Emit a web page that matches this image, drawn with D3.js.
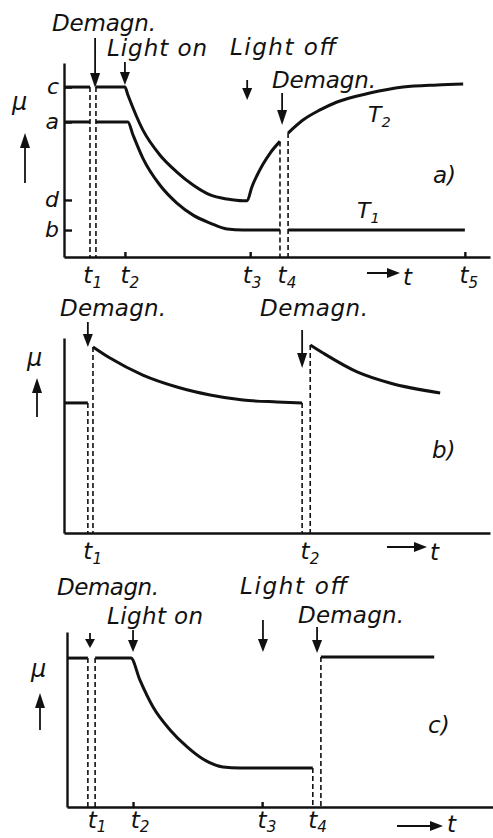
<!DOCTYPE html>
<html>
<head>
<meta charset="utf-8">
<script src="https://cdn.jsdelivr.net/npm/d3@7"></script>
<style>
  html, body { margin: 0; padding: 0; background: #fff; }
  svg text { font-family: "DejaVu Sans", sans-serif; font-style: oblique; fill: #111; }
</style>
</head>
<body>
<svg id="fig" width="493" height="838"></svg>
<script>
// Time runs 0–100 (arbitrary units) along each panel, permeability μ runs 0–100 (arbitrary units).

// ---------- a) two temperatures T1, T2 ----------
const aLevelNames  = ["c", "a", "d", "b"];
const aLevelValues = [87.6, 69.6, 29.4, 13.9];
const aTickNames   = ["1", "2", "3", "4", "5"];
const aTickTimes   = [5.6, 14.3, 43.0, 51.2, 93.9];
const aAxisTicks   = [14.3, 43.7, 94.1];
const aT2Before = [[0, 87.6], [6.1, 87.6]];
const aT2Light  = [[7.5, 87.6], [14.3, 87.6], [15.0, 83.5], [18.5, 65.5], [22.5, 52.6], [26.5, 43.8],
                   [30.3, 37.1], [34.3, 32.0], [38.3, 29.9], [42.0, 29.0], [43.0, 29.0], [44.1, 36.1],
                   [45.3, 42.0], [46.7, 47.8], [48.4, 53.6], [50.7, 59.6]];
const aT2After  = [[52.6, 63.9], [56.1, 70.6], [60.1, 75.8], [64.1, 79.9], [71.8, 84.5], [79.6, 87.6],
                   [87.6, 88.7], [93.7, 89.2]];
const aT1Before = [[0, 69.6], [6.1, 69.6]];
const aT1Light  = [[7.5, 69.6], [15.0, 69.6], [16.2, 62.9], [18.5, 51.0], [22.5, 37.1], [26.5, 27.8],
                   [30.3, 21.6], [34.3, 17.5], [38.3, 14.4], [42.0, 13.9], [50.7, 13.9]];
const aT1After  = [[52.6, 13.9], [94.1, 13.9]];
const aDashes   = [[6.1, 87.6], [7.5, 87.6], [50.7, 59.6], [52.6, 63.9]];
const aNotes     = ["Demagn.", "Light on", "Light off", "Demagn."];
const aNoteTimes = [7.3, 14.3, 43.0, 51.2];

// ---------- b) repeated demagnetization in the dark ----------
const bTickNames = ["1", "2"];
const bTickTimes = [5.6, 56.6];
const bBefore = [[0, 66.7], [5.6, 66.7]];
const bFirst  = [[6.8, 95.4], [10.8, 89.7], [18.5, 81.0], [26.5, 74.9], [34.3, 70.8], [42.0, 68.2],
                 [50.0, 67.2], [55.9, 66.7]];
const bSecond = [[57.8, 96.4], [60.8, 92.3], [68.8, 82.6], [76.5, 76.9], [88.3, 71.8]];
const bDashes = [[5.6, 66.7], [6.8, 95.4], [55.9, 66.7], [57.8, 96.4]];
const bNotes     = ["Demagn.", "Demagn."];
const bNoteTimes = [5.6, 55.9];

// ---------- c) light on, light off, demagnetization ----------
const cTickNames = ["1", "2", "3", "4"];
const cTickTimes = [5.9, 16.0, 45.8, 57.7];
const cAxisTicks = [15.5, 45.8];
const cBefore = [[0, 85.1], [4.9, 85.1]];
const cLight  = [[6.6, 85.1], [15.0, 85.1], [17.1, 72.6], [20.2, 57.1], [24.2, 44.0], [28.2, 34.3],
                 [31.9, 27.4], [36.6, 22.9], [40.6, 22.3], [57.7, 22.3]];
const cAfter  = [[59.6, 85.7], [86.2, 85.7]];
const cDashes = [[4.9, 85.1], [6.6, 85.1], [57.7, 22.3], [59.6, 85.7]];
const cNotes     = ["Demagn.", "Light on", "Light off", "Demagn."];
const cNoteTimes = [5.4, 15.5, 46.0, 58.7];

// ---------- drawing ----------
const INK = "#111";
const svg = d3.select("#fig");

function arrowDown(g, x, y0, y1, hl, hw) {
  g.append("line").attr("x1", x).attr("x2", x).attr("y1", y0).attr("y2", y1 - hl + 1)
    .attr("stroke", INK).attr("stroke-width", 1.8);
  g.append("path").attr("d", `M${x - hw / 2},${y1 - hl}L${x + hw / 2},${y1 - hl}L${x},${y1}Z`).attr("fill", INK);
}
function arrowUp(g, x, y0, y1, hl, hw) {
  g.append("line").attr("x1", x).attr("x2", x).attr("y1", y0).attr("y2", y1 + hl - 1)
    .attr("stroke", INK).attr("stroke-width", 1.8);
  g.append("path").attr("d", `M${x - hw / 2},${y1 + hl}L${x + hw / 2},${y1 + hl}L${x},${y1}Z`).attr("fill", INK);
}
function arrowRight(g, x0, x1, y, hl, hw) {
  g.append("line").attr("x1", x0).attr("x2", x1 - hl + 1).attr("y1", y).attr("y2", y)
    .attr("stroke", INK).attr("stroke-width", 2);
  g.append("path").attr("d", `M${x1 - hl},${y - hw / 2}L${x1 - hl},${y + hw / 2}L${x1},${y}Z`).attr("fill", INK);
}
function subText(g, px, py, main, sub, size, drop) {
  const t = g.append("text").attr("x", px).attr("y", py).attr("font-size", size);
  t.append("tspan").text(main);
  t.append("tspan").attr("font-size", size * 0.66).attr("dy", drop).text(sub);
  return t;
}

function drawPanel(p) {
  const g = svg.append("g");
  const x = d3.scaleLinear().domain([0, 100]).range(p.xRange);
  const y = d3.scaleLinear().domain([0, 100]).range(p.yRange);

  // dashed markers at the switching moments
  g.selectAll(".dash").data(p.dashes).join("line")
    .attr("x1", d => x(d[0])).attr("x2", d => x(d[0]))
    .attr("y1", d => y(d[1])).attr("y2", y(0))
    .attr("stroke", INK).attr("stroke-width", 1.6).attr("stroke-dasharray", "5,3");

  // time axis
  const xAxis = d3.axisBottom(x).tickValues(p.axisTicks).tickSize(-5).tickSizeOuter(0).tickFormat("");
  const gx = g.append("g").attr("transform", `translate(0,${y(0)})`).call(xAxis);
  gx.selectAll("path, line").attr("stroke", INK).attr("stroke-width", 2.4);

  // μ axis
  const yAxis = d3.axisLeft(y).tickValues(p.levelValues).tickSize(-8).tickSizeOuter(0).tickPadding(5)
    .tickFormat((d, i) => p.levelNames[i]);
  const gy = g.append("g").attr("transform", `translate(${x(0)},0)`).call(yAxis);
  gy.selectAll("path, line").attr("stroke", INK).attr("stroke-width", 2.4);
  gy.selectAll("text").attr("font-family", "DejaVu Sans").attr("font-style", "oblique")
    .attr("font-size", 22).attr("fill", INK).attr("dy", "0.3em");
  gy.attr("font-family", null).attr("font-size", null);

  // curves
  const line = d3.line().x(d => x(d[0])).y(d => y(d[1])).curve(d3.curveMonotoneX);
  g.selectAll(".curve").data(p.curves).join("path")
    .attr("d", line).attr("fill", "none").attr("stroke", INK)
    .attr("stroke-width", 3).attr("stroke-linejoin", "round").attr("stroke-linecap", "butt");

  // time labels t1, t2, ...
  p.tickTimes.forEach((t, i) => subText(g, x(t) - 4.5, p.tickY, "t", p.tickNames[i], 23, p.subDrop));

  // axis titles
  arrowRight(g, p.tArrow[0], p.tArrow[1], p.tArrow[2], 13, 10);
  g.append("text").attr("x", p.tText[0]).attr("y", p.tText[1]).attr("font-size", 23).text("t");
  g.append("text").attr("x", p.mu[0]).attr("y", p.mu[1]).attr("font-size", 24).text("μ");
  arrowUp(g, p.muArrow[0], p.muArrow[1], p.muArrow[2], 15, 10);

  // event annotations
  p.notes.forEach((txt, i) => {
    const L = p.noteLayout[i];
    g.append("text").attr("x", L[0]).attr("y", L[1]).attr("font-size", 23)
      .attr("textLength", L[5]).attr("lengthAdjust", "spacing").text(txt);
    arrowDown(g, x(p.noteTimes[i]), L[2], L[3], L[4], 10);
  });

  // panel letter
  g.append("text").attr("x", p.letter[0]).attr("y", p.letter[1]).attr("font-size", 23).text(p.letter[2]);
  return g;
}

const gA = drawPanel({
  xRange: [64, 490], yRange: [257, 63],
  dashes: aDashes, axisTicks: aAxisTicks,
  levelNames: aLevelNames, levelValues: aLevelValues,
  curves: [aT2Before, aT2Light, aT2After, aT1Before, aT1Light, aT1After],
  tickTimes: aTickTimes, tickNames: aTickNames, tickY: 283, subDrop: 5,
  tArrow: [367, 400, 273], tText: [403, 285],
  mu: [12, 110], muArrow: [25, 183, 133],
  notes: aNotes, noteTimes: aNoteTimes,
  noteLayout: [[52, 31, 38, 88, 15, 104], [107, 56, 62, 85, 13, 100], [230, 55, 80, 100, 12, 106],
               [272, 88, 93, 125, 15, 104]],
  letter: [433, 183, "a)"]
});
subText(gA, 368, 122, "T", "2", 22, 5);
subText(gA, 357, 218, "T", "1", 22, 5);

drawPanel({
  xRange: [64, 490], yRange: [533, 338],
  dashes: bDashes, axisTicks: [],
  levelNames: [], levelValues: [],
  curves: [bBefore, bFirst, bSecond],
  tickTimes: bTickTimes, tickNames: bTickNames, tickY: 559, subDrop: 5,
  tArrow: [387, 427, 547], tText: [430, 560],
  mu: [27, 366], muArrow: [37, 417, 378],
  notes: bNotes, noteTimes: bNoteTimes,
  noteLayout: [[60, 316, 322, 347, 13, 106], [260, 316, 330, 368, 15, 108]],
  letter: [432, 458, "b)"]
});

drawPanel({
  xRange: [67, 493], yRange: [807, 632],
  dashes: cDashes, axisTicks: cAxisTicks,
  levelNames: [], levelValues: [],
  curves: [cBefore, cLight, cAfter],
  tickTimes: cTickTimes, tickNames: cTickNames, tickY: 828, subDrop: 4,
  tArrow: [397, 443, 826], tText: [447, 832],
  mu: [31, 677], muArrow: [40, 730, 693],
  notes: cNotes, noteTimes: cNoteTimes,
  noteLayout: [[57, 595, 633, 648, 9, 102], [107, 624, 630, 652, 12, 96], [240, 594, 620, 652, 13, 107],
               [298, 623, 627, 653, 13, 106]],
  letter: [428, 733, "c)"]
});
</script>
</body>
</html>
